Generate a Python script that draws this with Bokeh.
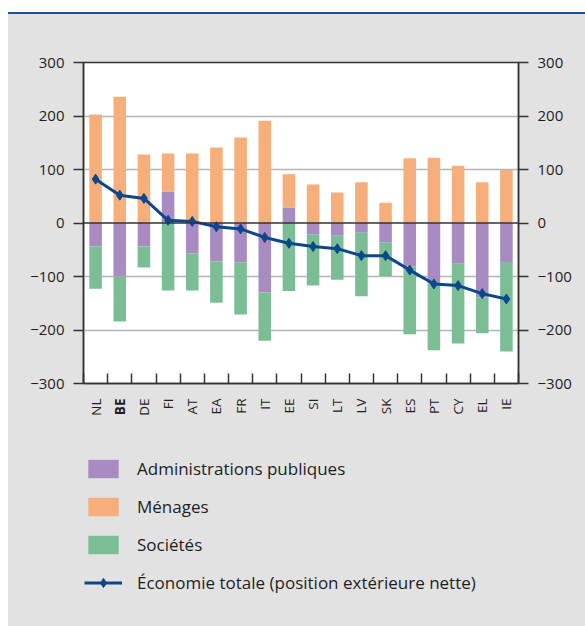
import math

import numpy as np
from bokeh.core.properties import value
from bokeh.embed import file_html
from bokeh.layouts import column
from bokeh.models import (ColumnDataSource, FixedTicker, Legend, LegendItem,
                          LinearAxis, Range1d, Span)
from bokeh.plotting import figure
from bokeh.resources import INLINE

# Net external position by institutional sector (% of GDP)
countries = ["NL", "BE", "DE", "FI", "AT", "EA", "FR", "IT", "EE",
             "SI", "LT", "LV", "SK", "ES", "PT", "CY", "EL", "IE"]
government = [-44, -100, -44, 59, -57, -72, -74, -130, 29,
              -21, -24, -18, -36, -81, -112, -76, -139, -73]
households = [203, 236, 128, 71, 130, 141, 160, 191, 62,
              72, 57, 76, 38, 121, 122, 107, 76, 99]
corporations = [-79, -84, -39, -126, -69, -77, -97, -90, -127,
                -96, -82, -119, -63, -127, -126, -149, -67, -167]
total_economy = [82, 52, 46, 5, 3, -7, -11, -27, -38,
                 -44, -48, -61, -61, -88, -114, -117, -132, -142]

y_ticks = [-300, -200, -100, 0, 100, 200, 300]
y_tick_labels = ["\u2212300", "\u2212200", "\u2212100", "0", "100", "200", "300"]

series_names = ["Administrations publiques", "Ménages", "Sociétés",
                "Économie totale (position extérieure nette)"]
highlight = "BE"

FONT = "Open Sans"
TEXT = "#1e1e1e"
PANEL = "#e2e2e2"
DARK = "#333333"
C_GOV = "#a78bc1"
C_HH = "#f6ae7b"
C_CORP = "#7bbe95"
C_LINE = "#0b478c"

WIDTH = 577
TOP_H = 384
BOTTOM_H = 228
BORDER_L, BORDER_R = 75, 67
BAR_W = 0.52

# stacking: government closest to zero, households above, corporations below
n = len(countries)
x = np.arange(n) + 0.5
gov = np.array(government, dtype=float)
hh = np.array(households, dtype=float)
corp = np.array(corporations, dtype=float)
hh_bottom = np.maximum(gov, 0)
corp_top = np.minimum(gov, 0)

src = ColumnDataSource(dict(
    x=x,
    gov=gov,
    hh_bottom=hh_bottom, hh_top=hh_bottom + hh,
    corp_top=corp_top, corp_bottom=corp_top + corp,
    total=np.array(total_economy, dtype=float),
))

x_range = Range1d(0, n)

p = figure(width=WIDTH, height=TOP_H, output_backend="svg", toolbar_location=None,
           x_range=x_range, y_range=Range1d(-300, 300),
           min_border_left=BORDER_L, min_border_right=BORDER_R,
           min_border_top=48, min_border_bottom=15,
           styles={"box-shadow": "0 -2px 0 0 #1f5494"})
p.background_fill_color = "white"
p.border_fill_color = PANEL
p.outline_line_color = DARK
p.outline_line_width = 1.5

p.vbar(x="x", bottom=0, top="gov", width=BAR_W, source=src,
       fill_color=C_GOV, line_color=None)
p.vbar(x="x", bottom="hh_bottom", top="hh_top", width=BAR_W, source=src,
       fill_color=C_HH, line_color=None)
p.vbar(x="x", bottom="corp_bottom", top="corp_top", width=BAR_W, source=src,
       fill_color=C_CORP, line_color=None)

p.add_layout(Span(location=0, dimension="width", line_color=DARK, line_width=1.5,
                  level="glyph"))

p.line("x", "total", source=src, line_color=C_LINE, line_width=3)
p.scatter("x", "total", source=src, marker="diamond", size=10,
          fill_color=C_LINE, line_color=C_LINE)

# grid
p.xgrid.grid_line_color = None
p.ygrid.ticker = FixedTicker(ticks=[-200, -100, 100, 200])
p.ygrid.grid_line_color = "#b5b5b5"
p.ygrid.grid_line_width = 1.5

tick_overrides = {t: lab for t, lab in zip(y_ticks, y_tick_labels)}


def style_y(ax):
    ax.ticker = FixedTicker(ticks=y_ticks)
    ax.major_label_overrides = tick_overrides
    ax.major_tick_in = 0
    ax.major_tick_out = 10
    ax.major_tick_line_color = DARK
    ax.major_tick_line_width = 1.5
    ax.minor_tick_line_color = None
    ax.axis_line_color = DARK
    ax.axis_line_width = 1.5
    ax.major_label_text_font = FONT
    ax.major_label_text_font_size = "15px"
    ax.major_label_text_color = TEXT
    ax.major_label_standoff = 9


style_y(p.yaxis[0])
right_axis = LinearAxis()
style_y(right_axis)
p.add_layout(right_axis, "right")

# category axis: separators between categories, names drawn underneath
xa = p.xaxis[0]
xa.ticker = FixedTicker(ticks=list(x), minor_ticks=list(range(n + 1)))
xa.major_label_overrides = {float(xi): "" for xi in x}
xa.major_label_text_font_size = "0px"
xa.major_label_standoff = 0
xa.major_tick_line_color = None
xa.major_tick_in = 0
xa.major_tick_out = 0
xa.minor_tick_in = 10
xa.minor_tick_out = 0
xa.minor_tick_line_color = DARK
xa.minor_tick_line_width = 1.5
xa.axis_line_color = DARK
xa.axis_line_width = 1.5

# lower panel: category names (the highlighted one in bold) and the legend
q = figure(width=WIDTH, height=BOTTOM_H, output_backend="svg", toolbar_location=None,
           x_range=x_range, y_range=Range1d(BOTTOM_H, 0),
           min_border_left=BORDER_L, min_border_right=BORDER_R,
           min_border_top=0, min_border_bottom=0,
           x_axis_location=None, y_axis_location=None)
q.background_fill_alpha = 0
q.border_fill_color = PANEL
q.outline_line_color = None
q.grid.visible = False

lab_src = ColumnDataSource(dict(
    x=x, y=np.zeros(n), text=countries,
    style=["bold" if c == highlight else "normal" for c in countries],
))
q.text(x="x", y="y", text="text", source=lab_src, angle=math.pi / 2,
       text_align="right", text_baseline="middle",
       text_font=value(FONT), text_font_size=value("13.5px"),
       text_font_style="style", text_color=TEXT)

# legend keys: renderers styled like the series, holding one point kept
# outside the visible range so only their legend glyphs show
key_src = ColumnDataSource(dict(x=[-float(n)], y=[-float(BOTTOM_H)]))
k_gov = q.vbar(x="x", top="y", width=BAR_W, source=key_src,
               fill_color=C_GOV, line_color=None)
k_hh = q.vbar(x="x", top="y", width=BAR_W, source=key_src,
              fill_color=C_HH, line_color=None)
k_corp = q.vbar(x="x", top="y", width=BAR_W, source=key_src,
                fill_color=C_CORP, line_color=None)
k_line = q.line("x", "y", source=key_src, line_color=C_LINE, line_width=3)
k_pts = q.scatter("x", "y", source=key_src, marker="diamond", size=12,
                  fill_color=C_LINE, line_color=C_LINE)

legend = Legend(items=[
    LegendItem(label=series_names[0], renderers=[k_gov]),
    LegendItem(label=series_names[1], renderers=[k_hh]),
    LegendItem(label=series_names[2], renderers=[k_corp]),
    LegendItem(label=series_names[3], renderers=[k_line, k_pts]),
], location=(1, 32), orientation="vertical")
legend.glyph_width = 38
legend.glyph_height = 23
legend.label_height = 23
legend.spacing = 15
legend.label_standoff = 15
legend.padding = 0
legend.margin = 0
legend.label_text_font = FONT
legend.label_text_font_size = "17px"
legend.label_text_color = TEXT
legend.background_fill_alpha = 0
legend.border_line_color = None
q.add_layout(legend)

page = column(p, q, spacing=0, margin=(14, 0, 0, 8),
              styles={"background-color": PANEL})

open("out.html", "w").write(file_html(page, INLINE))
